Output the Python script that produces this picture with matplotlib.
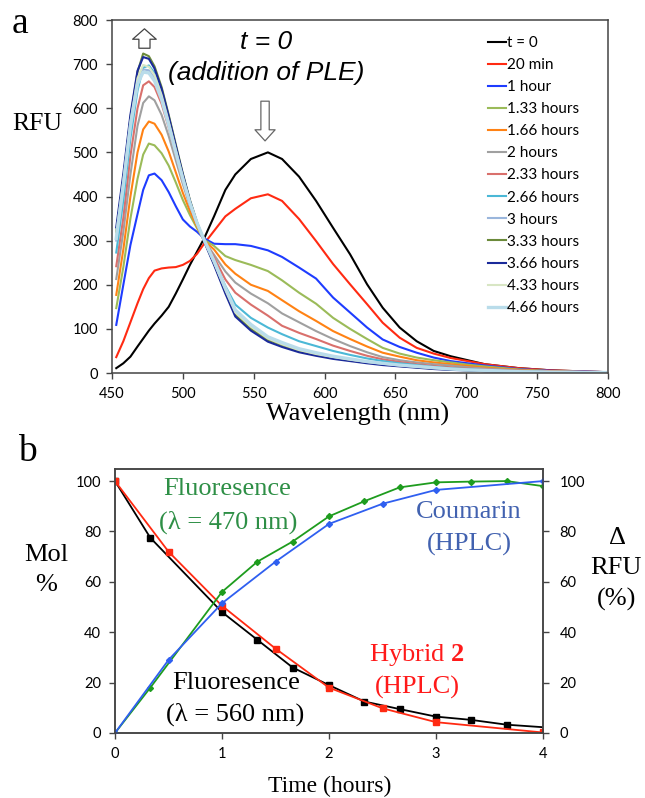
import matplotlib
matplotlib.use("Agg")
import matplotlib.pyplot as plt

plt.rcParams['font.family'] = ['Lato', 'DejaVu Sans']
plt.rcParams['mathtext.fontset'] = 'custom'
plt.rcParams['mathtext.rm'] = 'Liberation Serif'
plt.rcParams['mathtext.bf'] = 'Liberation Serif:bold'
SERIF = ['Liberation Serif', 'DejaVu Serif']
SANS_IT = ['Liberation Sans', 'DejaVu Sans']

# ---------------- panel a: emission spectra (RFU vs wavelength) ----------------
wavelength = [453, 458, 463, 468, 472, 476, 480, 485, 490, 495, 500, 505, 510, 515,
              522, 530, 537, 548, 560, 570, 582, 594, 606, 618, 630, 641, 653, 665,
              677, 689, 701, 713, 737, 760, 798]

rfu_t0 = [11, 22, 37, 60, 78, 96, 112, 130, 150, 180, 212, 245, 275, 305,
          355, 415, 450, 485, 500, 485, 445, 390, 329, 269, 201, 148, 103, 72,
          50, 38, 29, 20, 11, 6, 2]
rfu_20min = [36, 72, 115, 158, 190, 215, 232, 237, 239, 240, 245, 254, 270, 293,
             322, 355, 372, 396, 405, 390, 349, 299, 247, 201, 156, 114, 80, 57,
             44, 34, 27, 20, 11, 6, 2]
rfu_1h = [109, 200, 290, 360, 415, 448, 452, 437, 410, 378, 348, 332, 320, 305,
          293, 292, 292, 288, 278, 263, 239, 214, 171, 137, 103, 76, 59, 46,
          35, 27, 22, 17, 9, 5, 2]
rfu_133h = [147, 240, 350, 440, 495, 520, 516, 498, 470, 432, 392, 358, 328, 302,
            288, 265, 256, 245, 231, 210, 182, 157, 125, 100, 77, 57, 44, 35,
            29, 24, 19, 15, 8, 4, 1]
rfu_166h = [177, 280, 400, 500, 552, 570, 565, 540, 502, 455, 408, 367, 332, 300,
            280, 246, 225, 200, 186, 165, 140, 118, 95, 77, 60, 46, 37, 29,
            24, 20, 16, 12, 7, 4, 1]
rfu_2h = [213, 320, 450, 560, 612, 627, 618, 585, 537, 482, 428, 378, 337, 300,
          268, 230, 205, 180, 158, 135, 115, 95, 77, 61, 47, 36, 29, 24,
          20, 17, 13, 10, 6, 3, 1]
rfu_233h = [242, 352, 492, 600, 652, 661, 648, 610, 556, 496, 437, 382, 338, 300,
            262, 212, 182, 155, 130, 107, 91, 77, 62, 50, 39, 31, 25, 20,
            16, 13, 10, 8, 5, 3, 1]
rfu_266h = [273, 392, 532, 640, 692, 697, 680, 636, 576, 510, 446, 388, 340, 300,
            255, 197, 155, 125, 103, 88, 72, 61, 50, 41, 33, 27, 22, 18,
            14, 11, 9, 7, 4, 2, 1]
rfu_3h = [300, 420, 555, 655, 688, 686, 668, 624, 566, 502, 440, 384, 338, 300,
          252, 190, 140, 108, 80, 67, 53, 44, 37, 30, 25, 21, 17, 14,
          11, 9, 7, 5, 3, 2, 1]
rfu_333h = [320, 440, 578, 682, 724, 718, 695, 648, 585, 518, 452, 392, 342, 300,
            248, 184, 132, 100, 75, 63, 50, 42, 35, 29, 24, 20, 16, 13,
            10, 8, 6, 5, 3, 2, 1]
rfu_366h = [330, 452, 585, 685, 716, 712, 690, 644, 582, 515, 450, 390, 340, 298,
            245, 180, 128, 96, 71, 59, 47, 39, 32, 27, 22, 18, 15, 12,
            9, 7, 6, 4, 3, 2, 1]
rfu_433h = [315, 436, 570, 668, 698, 694, 675, 630, 570, 506, 443, 386, 339, 300,
            250, 188, 137, 105, 78, 65, 52, 43, 36, 30, 25, 21, 17, 14,
            11, 9, 7, 5, 3, 2, 1]
rfu_466h = [305, 425, 560, 655, 682, 680, 662, 620, 562, 500, 440, 385, 340, 302,
            254, 193, 143, 110, 82, 69, 55, 46, 38, 32, 26, 22, 18, 15,
            12, 9, 7, 6, 3, 2, 1]

spectra = [rfu_t0, rfu_20min, rfu_1h, rfu_133h, rfu_166h, rfu_2h, rfu_233h,
           rfu_266h, rfu_3h, rfu_333h, rfu_366h, rfu_433h, rfu_466h]
spectra_labels = ["t = 0", "20 min", "1 hour", "1.33 hours", "1.66 hours", "2 hours",
                  "2.33 hours", "2.66 hours", "3 hours", "3.33 hours", "3.66 hours",
                  "4.33 hours", "4.66 hours"]
spectra_colors = ["#000000", "#ff2a12", "#1e3cff", "#9bbb59", "#ff8214", "#a0a0a0",
                  "#d9706c", "#4bb8d6", "#9ab6dc", "#6b8a3a", "#1a2a9a",
                  "#d8e6c4", "#b9dcea"]

# ---------------- panel b: kinetics ----------------
t_fl560 = [0, 0.33, 1, 1.33, 1.66, 2, 2.33, 2.66, 3, 3.33, 3.66, 4]
mol_fl560 = [100, 77.5, 48, 37, 26, 19, 12.5, 9.5, 6.5, 5.2, 3.3, 2.3]
t_hybrid = [0, 0.5, 1, 1.5, 2, 2.5, 3, 4]
mol_hybrid = [100, 72, 50.5, 33.5, 18, 9.8, 4.3, 0.2]
t_fl470 = [0, 0.33, 1, 1.33, 1.66, 2, 2.33, 2.66, 3, 3.33, 3.66, 4]
drfu_fl470 = [0, 18, 56, 68, 76, 86, 92, 97.5, 99.5, 99.8, 100, 98]
t_coumarin = [0, 0.5, 1, 1.5, 2, 2.5, 3, 4]
mol_coumarin = [0, 29, 51.5, 68, 83, 91, 96.5, 100]

W, H = 645, 798
fig = plt.figure(figsize=(W / 100, H / 100), dpi=100)


def px(x, y):
    return x / W, 1 - y / H


def style_axes(ax):
    for s in ax.spines.values():
        s.set_color('#444444')
        s.set_linewidth(1.1)
    ax.tick_params(direction='out', length=4, width=1, color='#444444',
                   labelsize=10.5, pad=6)


# ---- panel a ----
ax1 = fig.add_axes([112 / W, 1 - 373 / H, (608 - 112) / W, (373 - 20) / H])
for vals, lab, col in zip(spectra, spectra_labels, spectra_colors):
    lw = 2.4 if lab == "4.66 hours" else 1.5
    ax1.plot(wavelength, vals, color=col, lw=lw, label=lab)
ax1.set_xlim(450, 800)
ax1.set_ylim(0, 800)
ax1.set_xticks(range(450, 801, 50))
ax1.set_yticks(range(0, 801, 100))
style_axes(ax1)
ax1.legend(loc='upper left', bbox_to_anchor=(0.758, 0.955), frameon=False,
           fontsize=11, handlelength=1.15, handletextpad=0.12, labelspacing=0.53,
           borderaxespad=0, borderpad=0)

ax1.annotate('', xy=(472.9, 780), xytext=(472.9, 736),
             arrowprops=dict(arrowstyle='simple,head_length=0.75,head_width=1.7,tail_width=0.8',
                             fc='white', ec='#444444', lw=0.9, shrinkA=0, shrinkB=0,
                             mutation_scale=10))
ax1.annotate('', xy=(558, 526), xytext=(558, 616),
             arrowprops=dict(arrowstyle='simple,head_length=0.8,head_width=1.45,tail_width=0.6',
                             fc='white', ec='#666666', lw=0.9, shrinkA=0, shrinkB=0,
                             mutation_scale=10))

fig.text(*px(266, 42), "t = 0", family=SANS_IT, style='italic', fontsize=19,
         ha='center', va='center')
fig.text(*px(266, 73), "(addition of PLE)", family=SANS_IT, style='italic', fontsize=19,
         ha='center', va='center')
fig.text(*px(20, 24), "a", family=SERIF, fontsize=27, ha='center', va='center')
fig.text(*px(37, 124), "RFU", family=SERIF, fontsize=18.5, ha='center', va='center')
fig.text(*px(358, 414), "Wavelength (nm)", family=SERIF, fontsize=19,
         ha='center', va='center')

# ---- panel b ----
ax2 = fig.add_axes([115 / W, 1 - 733 / H, (543 - 115) / W, (733 - 469) / H])
ax2.plot(t_fl560, mol_fl560, color='black', lw=1.3, marker='s', ms=5,
         markevery=list(range(len(t_fl560) - 1)))
ax2.plot(t_hybrid, mol_hybrid, color='#ff2a12', lw=1.3, marker='s', ms=5)
ax2.set_xlim(0, 4)
ax2.set_ylim(0, 104.8)
ax2.set_xticks([0, 1, 2, 3, 4])
ax2.set_yticks(range(0, 101, 20))
style_axes(ax2)

ax3 = ax2.twinx()
ax3.plot(t_fl470, drfu_fl470, color='#1e9c1e', lw=1.3, marker='D', ms=3)
ax3.plot(t_coumarin, mol_coumarin, color='#2f5ff0', lw=1.3, marker='D', ms=3)
ax3.set_ylim(0, 104.8)
ax3.set_yticks(range(0, 101, 20))
style_axes(ax3)
ax3.tick_params(axis='y', pad=8)

fig.text(*px(27, 452), "b", family=SERIF, fontsize=27, ha='center', va='center')
fig.text(*px(46, 555), "Mol", family=SERIF, fontsize=19, ha='center', va='center')
fig.text(*px(46, 585), "%", family=SERIF, fontsize=19, ha='center', va='center')
fig.text(*px(617, 538), "\u0394", family=SERIF, fontsize=19, ha='center', va='center')
fig.text(*px(616, 568), "RFU", family=SERIF, fontsize=19, ha='center', va='center')
fig.text(*px(617, 599), "(%)", family=SERIF, fontsize=19, ha='center', va='center')

green_txt = '#2e8f46'
blue_txt = '#4262b0'
red_txt = '#ff1a1a'
fig.text(*px(227, 489), "Fluoresence", family=SERIF, fontsize=19, color=green_txt,
         ha='center', va='center')
fig.text(*px(228, 522), "(\u03bb = 470 nm)", family=SERIF, fontsize=19, color=green_txt,
         ha='center', va='center')
fig.text(*px(469, 512), "Coumarin", family=SERIF, fontsize=19, color=blue_txt,
         ha='center', va='center')
fig.text(*px(469, 544), "(HPLC)", family=SERIF, fontsize=19, color=blue_txt,
         ha='center', va='center')
fig.text(*px(236, 683), "Fluoresence", family=SERIF, fontsize=19, color='black',
         ha='center', va='center')
fig.text(*px(235, 714), "(\u03bb = 560 nm)", family=SERIF, fontsize=19, color='black',
         ha='center', va='center')
fig.text(*px(417, 655), "Hybrid $\\mathbf{2}$", family=SERIF, fontsize=19, color=red_txt,
         ha='center', va='center')
fig.text(*px(417, 687), "(HPLC)", family=SERIF, fontsize=19, color=red_txt,
         ha='center', va='center')
fig.text(*px(330, 786), "Time (hours)", family=SERIF, fontsize=17,
         ha='center', va='center')

fig.savefig("out.png", dpi=100)
